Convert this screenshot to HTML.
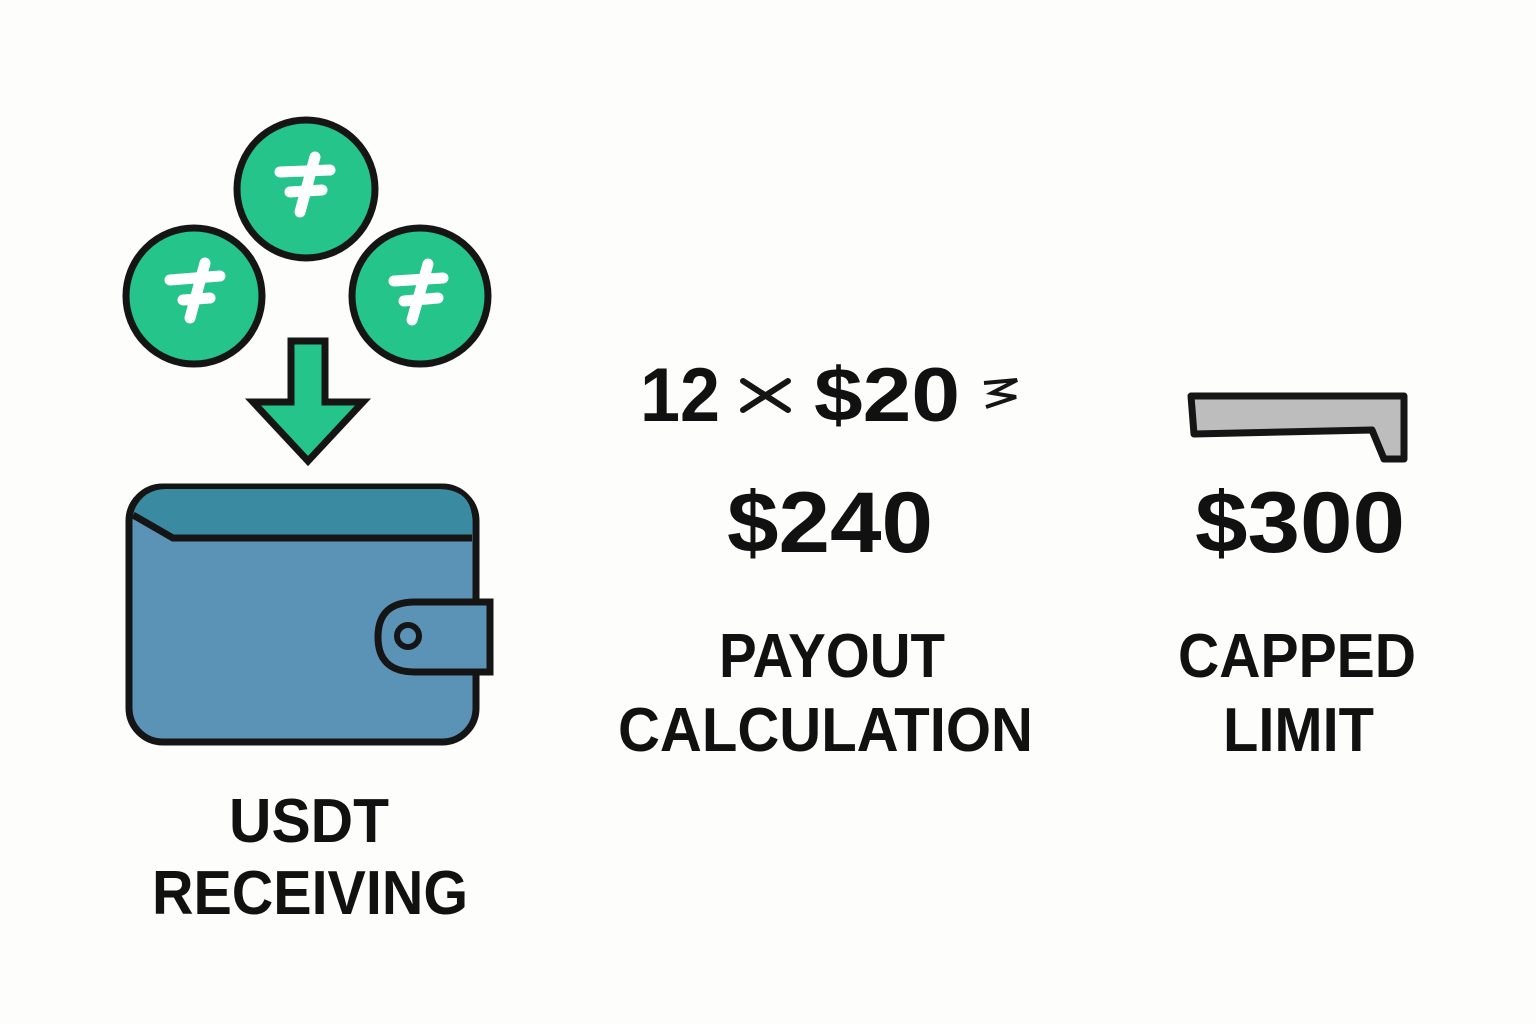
<!DOCTYPE html>
<html><head><meta charset="utf-8"><style>html,body{margin:0;padding:0;background:#fdfdfb}svg{display:block}</style></head>
<body>
<svg width="1536" height="1024" viewBox="0 0 1536 1024" xmlns="http://www.w3.org/2000/svg" font-family="Liberation Sans, Arial, sans-serif" font-weight="bold" fill="#111">
<rect width="1536" height="1024" fill="#fdfdfb"/>
<!-- coins -->
<g stroke="#151515" stroke-width="7" fill="#24c48a">
<circle cx="306" cy="189" r="69"/>
<circle cx="194" cy="296" r="68"/>
<circle cx="420" cy="296" r="68"/>
</g>
<g stroke="#fff" stroke-width="11" stroke-linecap="round" fill="none">
<path d="M280 172 L330 170 M290 192 L322 190 M315 157 L300 212"/>
<path d="M170 280 L220 276 M183 300 L210 298 M205 263 L190 318"/>
<path d="M394 281 L443 278 M404 301 L438 298 M428 264 L412 320"/>
</g>
<!-- arrow -->
<path d="M291 341 L325 341 L325 402 L363 402 L308 461 L253 402 L291 402 Z" fill="#24c48a" stroke="#151515" stroke-width="7" stroke-linejoin="miter"/>
<!-- wallet -->
<rect x="129" y="487" width="347" height="255" rx="34" fill="#5b93b6" stroke="#151515" stroke-width="7"/>
<path d="M133 515 Q140 490 165 489 L440 489 Q472 490 472 520 L472 538 L173 538 L133 515 Z" fill="#3a8aa2"/>
<path d="M133 515 L173 538 L472 538" fill="none" stroke="#151515" stroke-width="7"/>
<path d="M490 602 L415 602 Q378 602 378 637 Q378 672 415 672 L490 672 Z" fill="#5b93b6" stroke="#151515" stroke-width="7"/>
<circle cx="408" cy="636" r="11" fill="#5b93b6" stroke="#151515" stroke-width="6"/>
<!-- bar -->
<path d="M1191 396 L1404 396 L1404 459 L1384 459 L1372 430 L1194 434 Z" fill="#bdbdbd" stroke="#151515" stroke-width="7" stroke-linejoin="round"/>
<!-- texts -->
<text x="640" y="421" font-size="76" textLength="80" lengthAdjust="spacingAndGlyphs">12</text>
<path d="M743 381 L788 410 M788 381 L743 410" stroke="#151515" stroke-width="6" stroke-linecap="round"/>
<text x="814" y="421" font-size="76" textLength="146" lengthAdjust="spacingAndGlyphs">$20</text>
<path d="M984 383 L1017 380 L992 393 L1016 397 L986 407" fill="none" stroke="#151515" stroke-width="4"/>
<text x="727" y="552" font-size="86" textLength="206" lengthAdjust="spacingAndGlyphs">$240</text>
<text x="1195" y="552" font-size="86" textLength="210" lengthAdjust="spacingAndGlyphs">$300</text>
<g font-size="62">
<text x="719" y="677" textLength="226" lengthAdjust="spacingAndGlyphs">PAYOUT</text>
<text x="618" y="751" textLength="415" lengthAdjust="spacingAndGlyphs">CALCULATION</text>
<text x="1178" y="677" textLength="238" lengthAdjust="spacingAndGlyphs">CAPPED</text>
<text x="1223" y="751" textLength="151" lengthAdjust="spacingAndGlyphs">LIMIT</text>
<text x="229" y="842" textLength="160" lengthAdjust="spacingAndGlyphs">USDT</text>
<text x="152" y="914" textLength="316" lengthAdjust="spacingAndGlyphs">RECEIVING</text>
</g>
</svg>
</body></html>
